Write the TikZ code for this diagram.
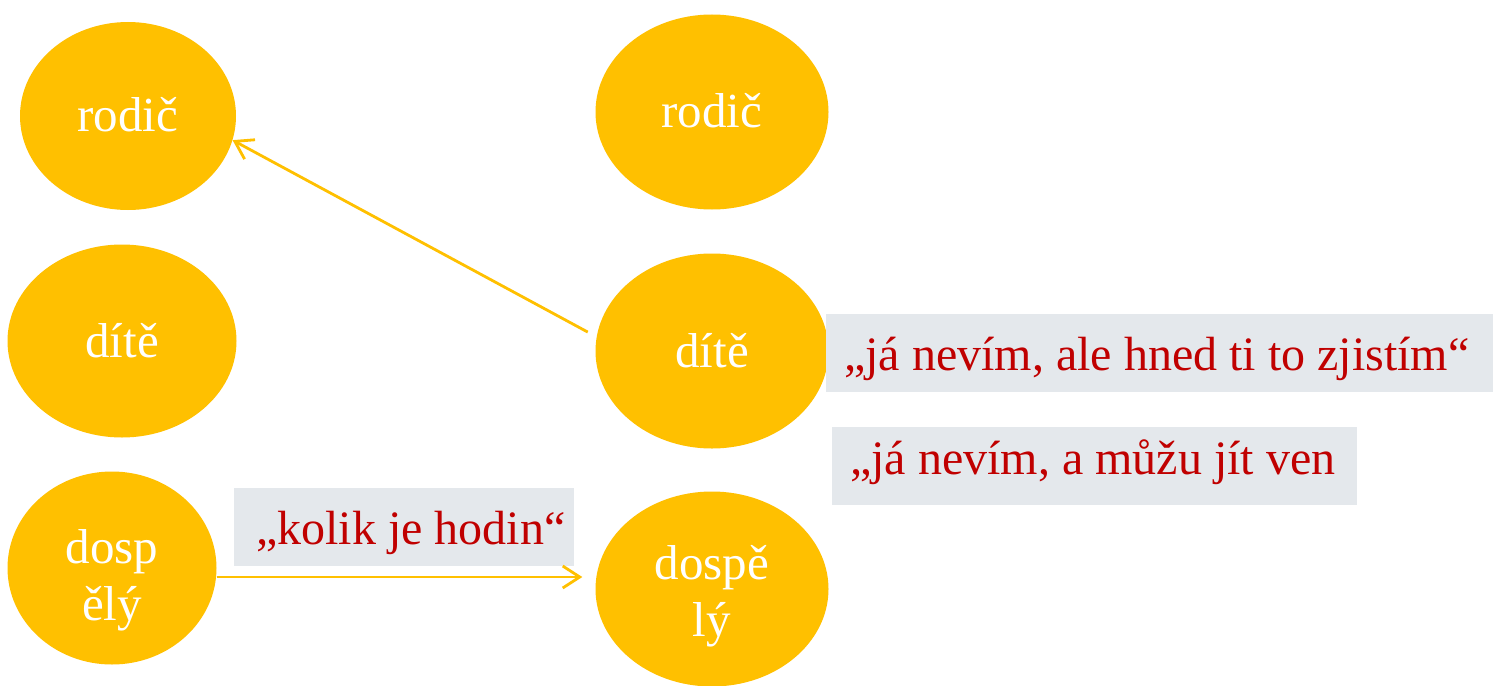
\documentclass[tikz,border=0pt]{standalone}
\usepackage{fontspec}
\setmainfont{Liberation Serif}
\usetikzlibrary{shapes.geometric,arrows.meta,calc}
\definecolor{gold}{HTML}{FFC000}
\definecolor{boxgray}{HTML}{E4E8EC}
\definecolor{darkred}{HTML}{C00000}
\newcommand{\twoline}[3]{\raisebox{#1}[0pt][0pt]{\parbox{140pt}{\centering #2\\#3}}}
\newcommand{\quotetext}[3]{\makebox[#1][l]{\hspace*{#2}#3}}
\begin{document}
\begin{tikzpicture}[x=1pt,y=-1pt,
  bubble/.style={ellipse, fill=gold, draw=none, inner sep=0pt, text=white, align=center,
    font=\fontsize{49}{57}\selectfont},
  quote/.style={fill=boxgray, draw=none, inner sep=0pt, anchor=north west,
    text=darkred, font=\fontsize{48}{56}\selectfont, text height=56pt, text depth=22pt},
  link/.style={draw=gold, line width=2.8pt, -{Straight Barb[length=17pt,width=22pt,line width=2.8pt]}}]
\useasboundingbox[fill=white] (0,0) rectangle (1506,685);
% left column
\node[bubble, minimum width=216pt, minimum height=188pt] (r1) at (128,116) {\raisebox{4pt}{rodič}};
\node[bubble, minimum width=229pt, minimum height=193pt] (d1) at (122,341) {dítě};
\node[bubble, minimum width=209pt, minimum height=193pt] (a1) at (112,568) {\twoline{-19pt}{dosp}{ělý}};
% right column
\node[bubble, minimum width=233pt, minimum height=195pt] (r2) at (712,112) {\raisebox{4pt}{rodič}};
\node[bubble, minimum width=233pt, minimum height=195pt] (d2) at (712,351) {dítě};
\node[bubble, minimum width=233pt, minimum height=195pt] (a2) at (712,589) {\twoline{-13pt}{dospě}{lý}};
% quotes
\node[quote] (q1) at (234,488) {\quotetext{340pt}{22pt}{„kolik je hodin“}};
\node[quote] (q2) at (826,314) {\quotetext{667pt}{18pt}{„já nevím, ale hned ti to zjistím“}};
\node[quote, text height=47pt, text depth=31pt] (q3) at (832,427) {\quotetext{525pt}{18pt}{„já nevím, a můžu jít ven}};
% connectors
\draw[link, shorten <=10pt] (d2.173) -- (r1.-13);
\draw[link, shorten >=13pt] ([yshift=-9pt]a1.east) -- ([yshift=-9pt]a1.east -| a2.west);
\end{tikzpicture}
\end{document}
